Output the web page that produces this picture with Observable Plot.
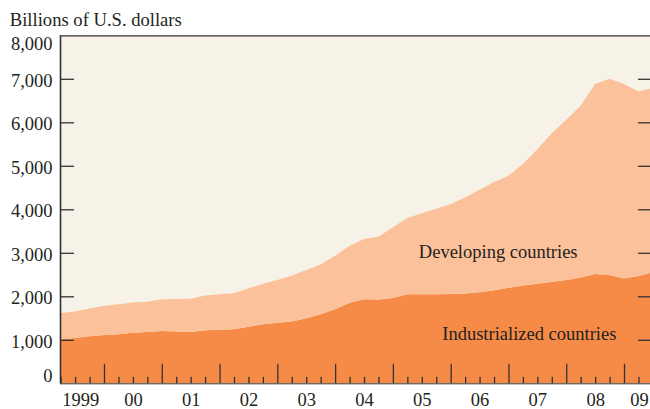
<!DOCTYPE html>
<html><head><meta charset="utf-8">
<script src="https://cdn.jsdelivr.net/npm/d3@7"></script>
<script src="https://cdn.jsdelivr.net/npm/@observablehq/plot@0.6"></script>
<style>
body{margin:0;background:#fff;}
#chart svg{display:block;}
</style></head><body><div id="chart"></div>
<script>
// Quarterly data, 1999Q1 – 2009Q2 (billions of U.S. dollars)
const quarters = [
  "1999Q1","1999Q2","1999Q3","1999Q4","2000Q1","2000Q2","2000Q3","2000Q4",
  "2001Q1","2001Q2","2001Q3","2001Q4","2002Q1","2002Q2","2002Q3","2002Q4",
  "2003Q1","2003Q2","2003Q3","2003Q4","2004Q1","2004Q2","2004Q3","2004Q4",
  "2005Q1","2005Q2","2005Q3","2005Q4","2006Q1","2006Q2","2006Q3","2006Q4",
  "2007Q1","2007Q2","2007Q3","2007Q4","2008Q1","2008Q2","2008Q3","2008Q4",
  "2009Q1","2009Q2"
];
const total = [
  1610,1650,1720,1780,1815,1855,1875,1935,
  1940,1945,2020,2045,2070,2185,2290,2375,
  2475,2605,2730,2930,3160,3320,3370,3590,
  3800,3910,4010,4120,4270,4450,4630,4770,
  5040,5380,5750,6060,6380,6880,7000,6880,
  6710,6790
];
const industrialized = [
  1010,1040,1080,1110,1125,1160,1180,1200,
  1190,1180,1220,1230,1240,1300,1355,1390,
  1420,1495,1590,1700,1850,1930,1925,1960,
  2045,2047,2047,2055,2065,2095,2140,2195,
  2250,2290,2330,2375,2430,2510,2490,2410,
  2465,2555
];
const years = [1999,2000,2001,2002,2003,2004,2005,2006,2007,2008,2009];
const yearLabels = ["1999","00","01","02","03","04","05","06","07","08","09"];
const yTicks = [0,1000,2000,3000,4000,5000,6000,7000,8000];
const yTickLabels = ["0","1,000","2,000","3,000","4,000","5,000","6,000","7,000","8,000"];
const seriesNames = ["Developing countries","Industrialized countries"];
const seriesLabelPos = [{x: 2005.44, y: 3020}, {x: 2005.845, y: 1150}];

const cream = "#f7f2e8", light = "#fbc19a", dark = "#f68b48";
const ink = "#231f20", axis = "#333333";
const font = "Liberation Serif";
const fs = 18.5;

const rows = quarters.map((q, i) => ({
  t: +q.slice(0, 4) + (+q.slice(5)) * 0.25,
  ind: industrialized[i],
  total: total[i]
}));

const xDomain = [1999.2385, 2009.4496];
const quarterTicks = d3.range(1999.25, 2009.3, 0.25).map(v => Math.round(v * 4) / 4);
const minorTicks = quarterTicks.filter(v => v % 1 !== 0);
const majorTicks = quarterTicks.filter(v => v % 1 === 0);

const yLab = yTicks.map((v, i) => ({v, label: yTickLabels[i]}));
const yLabMid = yLab.filter(d => d.v > 0 && d.v < 8000);
const xLab = years.map((y, i) => ({x: y + 0.5, label: yearLabels[i]}));
const xLabMid = xLab.slice(1, -1);
const ann = seriesNames.map((n, i) => ({...seriesLabelPos[i], label: n}));

const plot = Plot.plot({
  width: 650,
  height: 409,
  marginLeft: 60,
  marginRight: 0,
  marginTop: 35.3,
  marginBottom: 25.7,
  style: {fontFamily: font, background: "#fff", overflow: "visible"},
  x: {domain: xDomain, axis: null},
  y: {domain: [0, 8000], axis: null},
  marks: [
    Plot.frame({fill: cream, stroke: null}),
    Plot.areaY(rows, {x: "t", y1: 0, y2: "ind", fill: dark, clip: true}),
    Plot.areaY(rows, {x: "t", y1: "ind", y2: "total", fill: light, clip: true}),
    // frame lines
    Plot.ruleY([8000], {stroke: axis, strokeWidth: 1.2}),
    Plot.ruleY([0], {stroke: axis, strokeWidth: 1}),
    Plot.ruleX([xDomain[0]], {stroke: axis, strokeWidth: 1.6}),
    // y ticks inside, left and right
    Plot.tickY(yTicks.filter(v => v > 0 && v < 8000), {y: d => d, stroke: axis, strokeWidth: 1.3, insetRight: 590 - 14}),
    Plot.tickY(yTicks.filter(v => v > 0 && v < 8000), {y: d => d, stroke: axis, strokeWidth: 1.3, insetLeft: 590 - 12}),
    // x ticks (quarters minor, years major)
    Plot.tickX(minorTicks, {x: d => d, stroke: axis, strokeWidth: 1.3, insetTop: 348 - 6.5}),
    Plot.tickX(majorTicks, {x: d => d, stroke: axis, strokeWidth: 1.3, insetTop: 348 - 19.5}),
    // y tick labels
    Plot.text(yLabMid, {x: () => xDomain[0], y: "v", text: "label", textAnchor: "end", dx: -8, dy: 1.5, fontSize: fs, fill: ink}),
    Plot.text(yLab.filter(d => d.v === 8000), {x: () => xDomain[0], y: "v", text: "label", textAnchor: "end", dx: -8, dy: 8, fontSize: fs, fill: ink}),
    Plot.text(yLab.filter(d => d.v === 0), {x: () => xDomain[0], y: "v", text: "label", textAnchor: "end", dx: -8, dy: -7.3, fontSize: fs, fill: ink}),
    // x labels
    Plot.text(xLabMid, {x: "x", y: () => 0, text: "label", dy: 16, fontSize: fs, fill: ink}),
    Plot.text([xLab[0]], {x: () => xDomain[0], y: () => 0, text: "label", textAnchor: "start", dx: 1.7, dy: 16, fontSize: fs, fill: ink}),
    Plot.text([xLab[xLab.length - 1]], {x: () => xDomain[1], y: () => 0, text: "label", textAnchor: "end", dx: -1.7, dy: 16, fontSize: fs, fill: ink}),
    // series labels
    Plot.text(ann, {x: "x", y: "y", text: "label", textAnchor: "start", fontSize: fs, fill: ink}),
    // title
    Plot.text(["Billions of U.S. dollars"], {x: () => xDomain[0], y: () => 8000, text: d => d, textAnchor: "start", dx: -50.7, dy: -15.5, fontSize: 18.6, fill: ink})
  ]
});
document.getElementById("chart").appendChild(plot);
</script>
</body></html>
